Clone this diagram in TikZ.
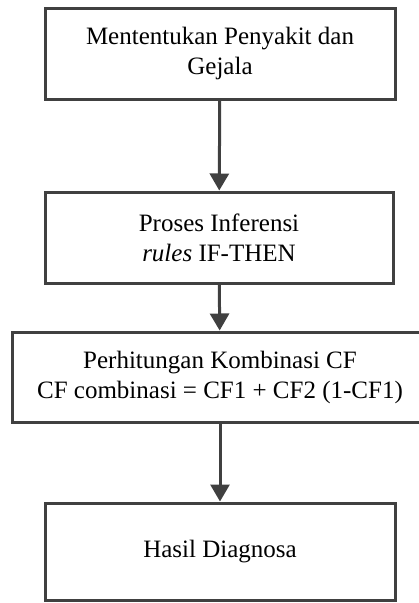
\documentclass[tikz,border=0pt]{standalone}
\usepackage{fontspec}
\setmainfont{Liberation Serif}
\usetikzlibrary{arrows.meta,shadows}
\definecolor{garis}{HTML}{404040}

\begin{document}
\begin{tikzpicture}
[x=1pt,y=-1pt,>={Triangle[length=17pt,width=19pt]},
 kotak/.style={draw=garis,line width=3pt,fill=white,align=center,inner sep=0pt,
   font=\fontsize{25}{30}\selectfont,
   drop shadow={shadow xshift=1.5pt,shadow yshift=-2pt,fill=black!15,opacity=1}},
 panah/.style={->,draw=garis,fill=garis,line width=3pt}]
\useasboundingbox (0,0) rectangle (419,603);
            \node[kotak,minimum width=350pt,minimum height=91pt] (gejala) at (220,53.5) {Mententukan Penyakit dan\\Gejala};
            \node[kotak,minimum width=348pt,minimum height=91pt] (inferensi) at (219,237.5) {Proses Inferensi\\\textit{rules} IF-THEN};
            \node[kotak,minimum width=416pt,minimum height=90pt] (cf) at (220,377) {Perhitungan Kombinasi CF\\CF combinasi = CF1 + CF2 (1-CF1)};
            \node[kotak,minimum width=350pt,minimum height=97pt] (hasil) at (220,551.5) {Hasil Diagnosa};
            \draw[panah] (gejala) -- (inferensi);
            \draw[panah] (inferensi) -- (cf);
            \draw[panah] (cf) -- (hasil);
\end{tikzpicture}
\end{document}
